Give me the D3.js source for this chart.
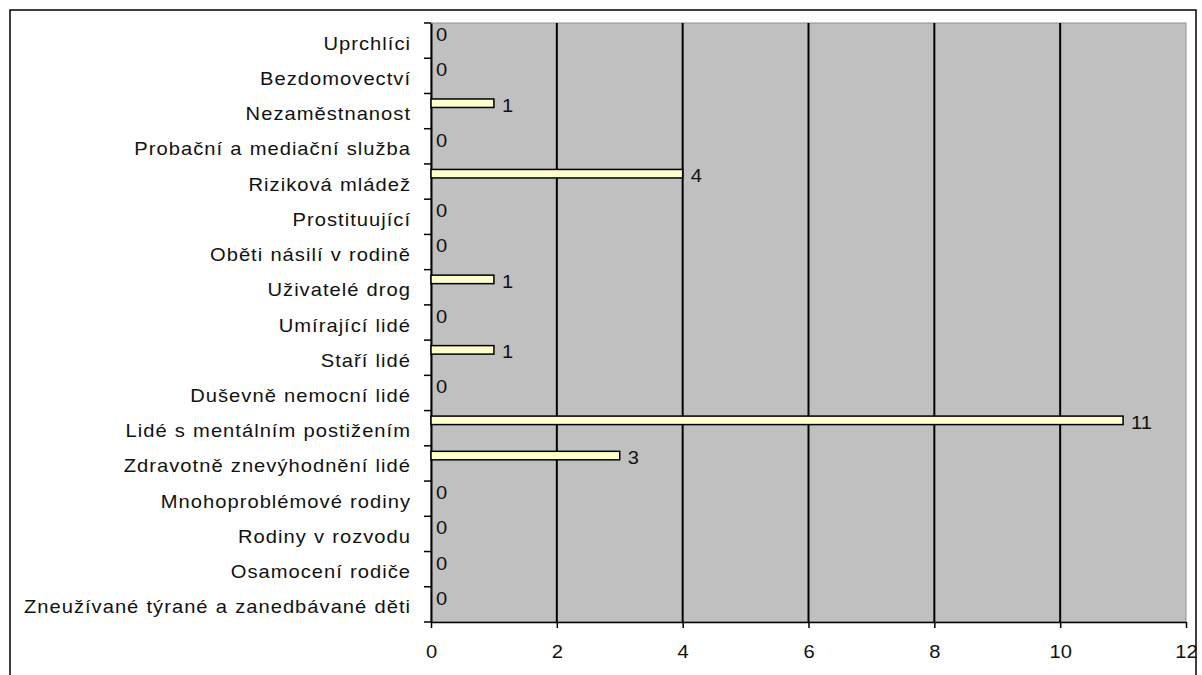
<!DOCTYPE html>
<html><head><meta charset="utf-8">
<script src="https://cdn.jsdelivr.net/npm/d3@7"></script>
<style>body{margin:0;background:#fff}svg{display:block}text{font-family:"Liberation Sans",Arial,sans-serif}</style>
</head><body><svg id="c" width="1202" height="675"></svg>
<script>
const categories = ["Uprchlíci","Bezdomovectví","Nezaměstnanost","Probační a mediační služba","Riziková mládež","Prostituující","Oběti násilí v rodině","Uživatelé drog","Umírající lidé","Staří lidé","Duševně nemocní lidé","Lidé s mentálním postižením","Zdravotně znevýhodnění lidé","Mnohoproblémové rodiny","Rodiny v rozvodu","Osamocení rodiče","Zneužívané týrané a zanedbávané děti"];
const values = [0,0,1,0,4,0,0,1,0,1,0,11,3,0,0,0,0];
const xTicks = [0,2,4,6,8,10,12];

const SX = 1.12; // horizontal stretch of the reference text
const svg = d3.select("#c");
const m = {left:431, right:1186, top:23, bottom:622};
const x = d3.scaleLinear().domain([0,12]).range([m.left,m.right]);
const y = d3.scaleBand().domain(categories).range([m.top,m.bottom]);

// outer border
svg.append("rect").attr("x",10).attr("y",10).attr("width",1186).attr("height",680)
  .attr("fill","#fff").attr("stroke","#000").attr("stroke-width",1.5);

// plot bg
svg.append("rect").attr("x",m.left).attr("y",m.top).attr("width",m.right-m.left).attr("height",m.bottom-m.top)
  .attr("fill","#c0c0c0").attr("stroke","#909090").attr("stroke-width",1);

// gridlines
svg.append("g").selectAll("line").data(xTicks.filter(d=>d>0&&d<12)).join("line")
  .attr("x1",d=>x(d)).attr("x2",d=>x(d)).attr("y1",m.top).attr("y2",m.bottom)
  .attr("stroke","#000").attr("stroke-width",2);

// x axis
const xa = svg.append("g").attr("transform",`translate(0,${m.bottom})`)
  .call(d3.axisBottom(x).tickValues(xTicks).tickSize(6).tickPadding(17).tickSizeOuter(0));
xa.select(".domain").attr("stroke","#000").attr("stroke-width",1.5);
xa.selectAll(".tick line").attr("stroke","#000").attr("stroke-width",1.5);
xa.selectAll("text").attr("font-size",18).attr("fill","#111").attr("font-family","Liberation Sans, Arial, sans-serif")
  .attr("transform",`scale(${SX},1)`);

// y axis
const ya = svg.append("g").attr("transform",`translate(${m.left},0)`)
  .call(d3.axisLeft(y).tickSize(0).tickPadding(20));
ya.select(".domain").attr("stroke","#000").attr("stroke-width",2);
ya.selectAll("text").attr("font-size",18).attr("fill","#111").attr("dy","0.5em")
  .attr("x",-20/SX).attr("transform",`scale(${SX},1)`)
  .attr("font-family","Liberation Sans, Arial, sans-serif")
  .attr("letter-spacing","0.9px").attr("word-spacing","0.5px");
// category boundary ticks
const bounds = categories.map(c=>y(c)).concat([m.bottom]);
svg.append("g").selectAll("line").data(bounds).join("line")
  .attr("x1",m.left-7).attr("x2",m.left).attr("y1",d=>d).attr("y2",d=>d)
  .attr("stroke","#000").attr("stroke-width",1.5);

// bars
const bh = 8.5, boff = 5.5;
svg.append("g").selectAll("rect").data(values).join("rect")
  .attr("x",x(0)).attr("y",(d,i)=>y(categories[i])+boff)
  .attr("width",d=>x(d)-x(0)).attr("height",bh)
  .attr("fill","#ffffcc").attr("stroke","#000").attr("stroke-width",1.5)
  .attr("display",d=>d>0?null:"none");

// value labels
svg.append("g").selectAll("text").data(values).join("text")
  .attr("transform",(d,i)=>`translate(${x(d)+(d>0?8:5)},${y(categories[i])+boff+bh/2+2}) scale(${SX},1)`)
  .attr("dy","0.35em").attr("font-size",18).attr("fill","#111")
  .text(d=>d);
</script></body></html>
